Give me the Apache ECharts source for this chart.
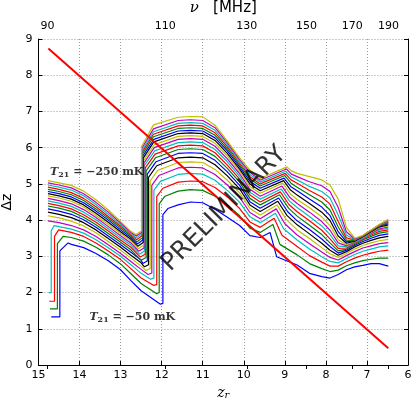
<!DOCTYPE html>
<html>
<head>
<meta charset="utf-8">
<script src="https://cdn.jsdelivr.net/npm/echarts@6/dist/echarts.min.js"></script>
<style>html,body{margin:0;padding:0;background:#fff}#chart{width:412px;height:398px}</style>
</head>
<body>
<div id="chart"></div>
<script>
// 20 curves, index 0 = T21 -50 mK (bottom, blue) ... index 19 = T21 -250 mK (top)
var startZ   = [14.69, 14.72, 14.74, 14.75, 14.77, 14.77, 14.77, 14.77, 14.77, 14.77, 14.77, 14.77, 14.77, 14.77, 14.77, 14.77, 14.77, 14.77, 14.77, 14.77];
var startVal = [1.33, 1.55, 1.76, 2.00, 3.98, 4.12, 4.22, 4.31, 4.39, 4.46, 4.53, 4.60, 4.67, 4.73, 4.79, 4.85, 4.91, 4.97, 5.03, 5.09];
// first rise (only the four lowest curves)
var riseZ     = [14.48, 14.54, 14.61, 14.69, null, null, null, null, null, null, null, null, null, null, null, null, null, null, null, null];
var riseTop   = [3.15, 3.35, 3.55, 3.70, null, null, null, null, null, null, null, null, null, null, null, null, null, null, null, null];
var peakAZ    = [14.28, 14.40, 14.51, 14.62, null, null, null, null, null, null, null, null, null, null, null, null, null, null, null, null];
var peakAVal  = [3.37, 3.55, 3.73, 3.85, null, null, null, null, null, null, null, null, null, null, null, null, null, null, null, null];

// decline from z~14.5 down to the trough
var leftZ = [14.5, 14.2, 13.9, 13.6, 13.3, 13.0, 12.75, 12.5];
var leftDz = [
  [null, null, 3.72, 3.82, 3.93, 4.06, 4.16, 4.25, 4.33, 4.40, 4.47, 4.54, 4.61, 4.67, 4.73, 4.79, 4.85, 4.91, 4.97, 5.03],
  [3.33, 3.52, 3.66, 3.75, 3.85, 3.97, 4.07, 4.16, 4.24, 4.31, 4.38, 4.45, 4.52, 4.58, 4.64, 4.70, 4.76, 4.83, 4.89, 4.96],
  [3.24, 3.42, 3.55, 3.64, 3.73, 3.84, 3.93, 4.01, 4.08, 4.15, 4.22, 4.29, 4.36, 4.42, 4.48, 4.54, 4.60, 4.67, 4.73, 4.80],
  [3.08, 3.25, 3.37, 3.46, 3.55, 3.65, 3.73, 3.80, 3.87, 3.94, 4.01, 4.07, 4.13, 4.19, 4.25, 4.31, 4.37, 4.43, 4.49, 4.56],
  [2.88, 3.04, 3.15, 3.24, 3.32, 3.41, 3.49, 3.56, 3.63, 3.70, 3.76, 3.82, 3.88, 3.94, 4.00, 4.05, 4.10, 4.16, 4.22, 4.28],
  [2.63, 2.79, 2.91, 3.00, 3.08, 3.17, 3.25, 3.32, 3.39, 3.45, 3.51, 3.57, 3.63, 3.68, 3.73, 3.78, 3.83, 3.87, 3.92, 3.96],
  [2.33, 2.52, 2.66, 2.77, 2.86, 2.95, 3.03, 3.11, 3.18, 3.25, 3.31, 3.37, 3.42, 3.47, 3.52, 3.56, 3.60, 3.63, 3.66, 3.69],
  [2.05, 2.25, 2.40, 2.53, 2.64, 2.73, 2.82, 2.90, null, null, null, null, null, null, null, null, null, null, null, null]
];

// trough and the big jump near z ~ 12.0-12.5
var troughZ     = [12.03, 12.12, 12.20, 12.27, 12.33, 12.38, 12.42, 12.46, 12.50, 12.52, 12.54, 12.56, 12.57, 12.58, 12.59, 12.60, 12.61, 12.62, 12.62, 12.63];
var troughVal   = [1.68, 1.97, 2.20, 2.37, 2.50, 2.61, 2.71, 2.80, 2.89, 2.98, 3.06, 3.14, 3.21, 3.28, 3.34, 3.40, 3.46, 3.51, 3.56, 3.60];
var jumpZ       = [11.97, 12.06, 12.12, 12.19, 12.24, 12.28, 12.32, 12.35, 12.38, 12.40, 12.42, 12.43, 12.44, 12.45, 12.46, 12.47, 12.48, 12.48, 12.49, 12.49];
var jumpBase    = [1.70, 2.00, 2.22, 2.40, 2.54, 2.66, 2.77, 2.87, 2.97, 3.06, 3.15, 3.23, 3.31, 3.38, 3.45, 3.51, 3.57, 3.62, 3.66, 3.70];
var jumpTop     = [4.15, 4.45, 4.65, 4.82, 4.96, 5.08, 5.18, 5.27, 5.36, 5.44, 5.51, 5.58, 5.65, 5.71, 5.77, 5.82, 5.87, 5.92, 5.97, 6.03];
var shoulderZ   = [11.85, 11.92, 11.97, 12.03, 12.07, 12.10, 12.12, 12.14, 12.15, 12.16, 12.17, 12.18, 12.18, 12.19, 12.19, 12.20, 12.20, 12.20, 12.20, 12.20];
var shoulderVal = [4.32, 4.66, 4.88, 5.07, 5.23, 5.37, 5.50, 5.61, 5.72, 5.82, 5.91, 6.00, 6.08, 6.16, 6.23, 6.30, 6.37, 6.44, 6.52, 6.63];

// plateau and decline
var midZ = [11.6, 11.3, 11.0, 10.7, 10.4, 10.1, 9.85, 9.6];
var midDz = [
  [4.42, 4.80, 5.05, 5.26, 5.44, 5.59, 5.72, 5.84, 5.95, 6.05, 6.14, 6.23, 6.31, 6.39, 6.46, 6.53, 6.60, 6.67, 6.75, 6.84],
  [4.50, 4.84, 5.08, 5.29, 5.46, 5.61, 5.74, 5.86, 5.97, 6.07, 6.16, 6.25, 6.33, 6.41, 6.48, 6.55, 6.62, 6.69, 6.77, 6.86],
  [4.48, 4.82, 5.06, 5.27, 5.44, 5.59, 5.72, 5.84, 5.95, 6.05, 6.14, 6.23, 6.31, 6.39, 6.46, 6.53, 6.60, 6.67, 6.75, 6.85],
  [4.30, 4.66, 4.90, 5.10, 5.26, 5.40, 5.53, 5.65, 5.76, 5.86, 5.95, 6.04, 6.12, 6.20, 6.27, 6.34, 6.41, 6.48, 6.55, 6.62],
  [4.08, 4.42, 4.64, 4.82, 4.97, 5.10, 5.22, 5.33, 5.43, 5.52, 5.61, 5.69, 5.77, 5.84, 5.91, 5.97, 6.03, 6.08, 6.13, 6.18],
  [3.85, 4.12, 4.32, 4.49, 4.63, 4.75, 4.86, 4.96, 5.05, 5.13, 5.21, 5.28, 5.35, 5.41, 5.47, 5.52, 5.57, 5.62, 5.67, 5.72],
  [3.57, 3.78, 3.95, 4.09, 4.21, 4.32, 4.42, 4.51, 4.60, 4.69, 4.77, 4.85, 4.93, 5.00, 5.07, 5.14, 5.20, 5.26, 5.32, 5.38],
  [3.52, 3.66, 3.80, 3.93, 4.04, 4.14, 4.24, 4.33, 4.42, 4.50, 4.58, 4.66, 4.74, 4.81, 4.88, 4.94, 5.00, 5.05, 5.10, 5.15]
];

// small peak near z ~ 9
var bumpZ   = [9.36, 9.29, 9.26, 9.23, 9.21, 9.19, 9.17, 9.15, 9.13, 9.11, 9.09, 9.07, 9.05, 9.03, 9.02, 9.00, 8.99, 8.98, 8.96, 8.95];
var bumpVal = [3.66, 3.88, 4.05, 4.19, 4.31, 4.42, 4.52, 4.61, 4.70, 4.78, 4.86, 4.94, 5.02, 5.09, 5.16, 5.23, 5.29, 5.35, 5.41, 5.47];
var dropZ   = [9.20, 9.12, 9.07, 9.03, 9.00, 8.97, 8.95, 8.93, 8.91, 8.90, 8.89, 8.88, 8.87, 8.86, 8.86, 8.85, 8.85, 8.84, 8.84, 8.84];
var dropVal = [2.99, 3.33, 3.58, 3.76, 3.90, 4.02, 4.13, 4.23, 4.33, 4.43, 4.53, 4.63, 4.73, 4.83, 4.93, 5.02, 5.11, 5.19, 5.27, 5.36];

// low-z tail
var rightZ = [8.7, 8.4, 8.1, 7.9, 7.7, 7.5, 7.3, 7.1, 6.9, 6.7, 6.48];
var rightDz = [
  [2.76, 3.04, 3.27, 3.45, 3.59, 3.73, 3.87, 3.98, 4.11, 4.23, 4.35, 4.46, 4.57, 4.69, 4.81, 4.91, 5.02, 5.11, 5.20, 5.29],
  [2.53, 2.80, 3.02, 3.20, 3.35, 3.49, 3.62, 3.74, 3.86, 3.98, 4.10, 4.22, 4.34, 4.46, 4.58, 4.70, 4.82, 4.93, 5.06, 5.20],
  [2.44, 2.66, 2.84, 2.99, 3.12, 3.24, 3.36, 3.48, 3.60, 3.72, 3.84, 3.96, 4.09, 4.22, 4.36, 4.50, 4.64, 4.79, 4.95, 5.11],
  [2.40, 2.58, 2.73, 2.86, 2.97, 3.07, 3.17, 3.27, 3.37, 3.48, 3.60, 3.72, 3.85, 3.99, 4.13, 4.28, 4.44, 4.61, 4.79, 4.97],
  [2.50, 2.62, 2.73, 2.82, 2.90, 2.97, 3.03, 3.09, 3.15, 3.22, 3.29, 3.37, 3.46, 3.56, 3.68, 3.81, 3.96, 4.14, 4.35, 4.58],
  [2.63, 2.74, 2.85, 2.94, 3.02, 3.08, 3.13, 3.17, 3.20, 3.23, 3.26, 3.29, 3.32, 3.36, 3.40, 3.45, 3.51, 3.59, 3.68, 3.80],
  [2.71, 2.82, 2.95, 3.05, 3.13, 3.20, 3.26, 3.30, 3.33, 3.36, 3.38, 3.40, 3.41, 3.42, 3.43, 3.44, 3.45, 3.46, 3.48, 3.50],
  [2.75, 2.88, 3.03, 3.14, 3.23, 3.30, 3.36, 3.41, 3.45, 3.48, 3.50, 3.52, 3.53, 3.54, 3.55, 3.56, 3.56, 3.57, 3.57, 3.58],
  [2.80, 2.92, 3.09, 3.20, 3.29, 3.37, 3.44, 3.50, 3.55, 3.59, 3.62, 3.64, 3.66, 3.68, 3.69, 3.70, 3.71, 3.72, 3.72, 3.73],
  [2.80, 2.95, 3.14, 3.26, 3.35, 3.43, 3.51, 3.58, 3.64, 3.69, 3.73, 3.76, 3.79, 3.81, 3.83, 3.84, 3.85, 3.86, 3.87, 3.88],
  [2.73, 2.95, 3.17, 3.29, 3.38, 3.47, 3.55, 3.62, 3.68, 3.73, 3.77, 3.81, 3.84, 3.87, 3.90, 3.93, 3.95, 3.97, 4.00, 4.02]
];

// red reference line
var redLine = [[14.76, 8.74], [6.48, 0.46]];

// top axis ticks (MHz)
var nuTicks = [90, 110, 130, 150, 170, 190];
var NU21 = 1420.4;

var colors = ['#0000ff', '#008000', '#ff0000', '#00bfbf', '#bf00bf', '#bfbf00', '#000000'];

function addNodes(pts, zs, cols, i, floor) {
    zs.forEach(function (z, k) {
        var v = cols[k][i];
        var last = pts[pts.length - 1][0];
        if (v !== null && z < last && z > floor) pts.push([z, v]);
    });
}

var series = [];
for (var i = 0; i < startVal.length; i++) {
    var pts = [[startZ[i], startVal[i]]];
    if (riseZ[i] !== null) {
        pts.push([riseZ[i], startVal[i]], [riseZ[i], riseTop[i]], [peakAZ[i], peakAVal[i]]);
    }
    addNodes(pts, leftZ, leftDz, i, troughZ[i]);
    pts.push([troughZ[i], troughVal[i]], [jumpZ[i], jumpBase[i]], [jumpZ[i], jumpTop[i]], [shoulderZ[i], shoulderVal[i]]);
    addNodes(pts, midZ, midDz, i, bumpZ[i]);
    pts.push([bumpZ[i], bumpVal[i]], [dropZ[i], dropVal[i]]);
    addNodes(pts, rightZ, rightDz, i, -Infinity);
    series.push({
        name: 'curve ' + (i + 1),
        type: 'line',
        data: pts,
        symbol: 'none',
        lineStyle: { color: colors[i % colors.length], width: 1.2 },
        z: 2
    });
}

series.push({
    name: 'red',
    type: 'line',
    data: redLine,
    symbol: 'none',
    lineStyle: { color: '#ff0000', width: 2 },
    z: 3
});

var tRich = {
    t: { fontFamily: 'DejaVu Serif', fontStyle: 'italic', fontWeight: 'bold', fontSize: 11, color: '#000' },
    s: { fontFamily: 'DejaVu Serif', fontWeight: 'bold', fontSize: 8, color: '#000', verticalAlign: 'bottom', padding: [6, 0, 0, 0] },
    n: { fontFamily: 'DejaVu Serif', fontWeight: 'bold', fontSize: 11, color: '#000' }
};

series.push({
    name: 'notes',
    type: 'scatter',
    symbolSize: 0,
    z: 5,
    data: [
        { value: [14.72, 5.33], label: { formatter: '{t|T}{s|21}{n| = −250 mK}' } },
        { value: [13.76, 1.32], label: { formatter: '{t|T}{s|21}{n| = −50 mK}' } }
    ],
    label: { show: true, position: 'right', distance: 0, rich: tRich },
    silent: true
});

series.push({
    name: 'stamp',
    type: 'scatter',
    symbolSize: 0,
    z: 6,
    data: [[10.48, 4.31]],
    label: {
        show: true, position: 'inside', rotate: 45,
        formatter: 'PRELIMINARY',
        fontFamily: 'DejaVu Sans', fontSize: 25, color: '#000'
    },
    silent: true
});

var nuPos = nuTicks.map(function (nu) { return NU21 / nu - 1; });

var chart = echarts.init(document.getElementById('chart'));
chart.setOption({
    animation: false,
    backgroundColor: '#fff',
    grid: { left: 38.5, right: 4, top: 39, bottom: 33, containLabel: false, outerBoundsMode: 'none' },
    xAxis: [{
        type: 'value', position: 'bottom', min: 6, max: 15, interval: 1, inverse: true,
        axisLine: { lineStyle: { color: '#000', width: 1 } },
        axisTick: { inside: true, length: 4, lineStyle: { color: '#000' } },
        axisLabel: { color: '#000', fontFamily: 'DejaVu Sans', fontSize: 11, margin: 5 },
        splitLine: { show: true, lineStyle: { color: '#999', type: [1, 2], width: 1 } },
        name: '{i|z}{s|r}', nameLocation: 'middle', nameGap: 12,
        nameTextStyle: { rich: {
            i: { fontFamily: 'DejaVu Serif', fontStyle: 'italic', fontSize: 14, color: '#000' },
            s: { fontFamily: 'DejaVu Serif', fontStyle: 'italic', fontSize: 10, color: '#000', verticalAlign: 'bottom', padding: [6, 0, 0, 0] }
        } }
    }, {
        type: 'value', position: 'top', min: 6, max: 15, inverse: true,
        axisLine: { lineStyle: { color: '#000', width: 1 } },
        axisTick: { inside: true, length: 4, lineStyle: { color: '#000' }, customValues: nuPos },
        axisLabel: {
            color: '#000', fontFamily: 'DejaVu Sans', fontSize: 11, margin: 7,
            customValues: nuPos,
            formatter: function (v) { return String(Math.round(NU21 / (v + 1))); }
        },
        splitLine: { show: false },
        name: '{g|ν}{n|   [MHz]}', nameLocation: 'middle', nameGap: 17,
        nameTextStyle: { rich: {
            g: { fontFamily: 'DejaVu Serif', fontStyle: 'italic', fontSize: 15, color: '#000' },
            n: { fontFamily: 'DejaVu Sans', fontSize: 15, color: '#000' }
        } }
    }],
    yAxis: [{
        type: 'value', position: 'left', min: 0, max: 9, interval: 1,
        axisLine: { show: true, lineStyle: { color: '#000', width: 1 } },
        axisTick: { show: true, inside: true, length: 4, lineStyle: { color: '#000' } },
        axisLabel: { color: '#000', fontFamily: 'DejaVu Sans', fontSize: 11, margin: 6 },
        splitLine: { show: true, lineStyle: { color: '#999', type: [1, 2], width: 1 } },
        name: 'Δz', nameLocation: 'middle', nameGap: 12,
        nameTextStyle: { fontFamily: 'DejaVu Sans', fontSize: 14, color: '#000' }
    }, {
        type: 'value', position: 'right', min: 0, max: 9, interval: 1,
        axisLine: { show: true, lineStyle: { color: '#000', width: 1 } },
        axisTick: { show: true, inside: true, length: 4, lineStyle: { color: '#000' } },
        axisLabel: { show: false },
        splitLine: { show: false }
    }],
    series: series
});
window.onresize = chart.resize;
</script>
</body>
</html>
